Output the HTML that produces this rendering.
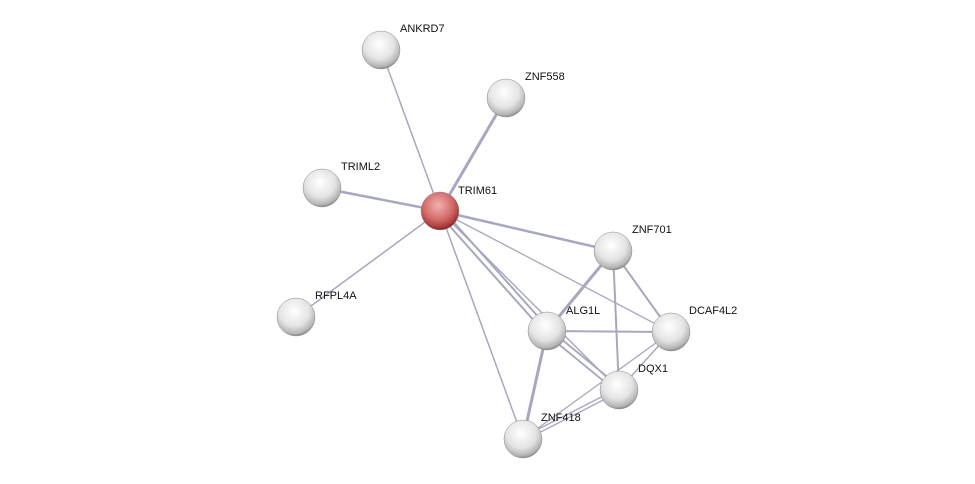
<!DOCTYPE html>
<html><head><style>
html,body{margin:0;padding:0;background:#fff;}
svg{display:block;}
text{font-family:"Liberation Sans",sans-serif;font-size:11px;fill:#111;}
</style></head><body>
<svg width="975" height="484" viewBox="0 0 975 484">
<defs>
<radialGradient id="g" cx="45%" cy="35%" r="65%">
<stop offset="0" stop-color="#ffffff"/><stop offset="0.6" stop-color="#e4e4e4"/><stop offset="0.9" stop-color="#b5b5b5"/><stop offset="1" stop-color="#8a8a8a"/>
</radialGradient>
<radialGradient id="r" cx="45%" cy="35%" r="65%">
<stop offset="0" stop-color="#f3b0b0"/><stop offset="0.6" stop-color="#d26a6a"/><stop offset="0.9" stop-color="#a83838"/><stop offset="1" stop-color="#7a2020"/>
</radialGradient>
</defs>
<g stroke="#a6a8bf" fill="none">
<line x1="440" y1="211" x2="381" y2="50" stroke-width="1.5"/>
<line x1="440" y1="211" x2="506" y2="98" stroke-width="3"/>
<line x1="440" y1="211" x2="322" y2="188" stroke-width="2.5"/>
<line x1="440" y1="211" x2="296" y2="317" stroke-width="1.5"/>
<line x1="440" y1="211" x2="613" y2="251" stroke-width="2.5"/>
<line x1="440" y1="211" x2="671" y2="332" stroke-width="1.3"/>
<line x1="438" y1="213" x2="545" y2="333" stroke-width="2"/>
<line x1="442" y1="209" x2="549" y2="329" stroke-width="2"/>
<line x1="440" y1="211" x2="619" y2="390" stroke-width="1.5"/>
<line x1="440" y1="211" x2="523" y2="439" stroke-width="1.5"/>
<line x1="613" y1="251" x2="547" y2="331" stroke-width="3"/>
<line x1="613" y1="251" x2="671" y2="332" stroke-width="2"/>
<line x1="613" y1="251" x2="619" y2="390" stroke-width="2"/>
<line x1="547" y1="331" x2="671" y2="332" stroke-width="2"/>
<line x1="545" y1="333" x2="617" y2="392" stroke-width="1.8"/>
<line x1="549" y1="329" x2="621" y2="388" stroke-width="1.8"/>
<line x1="547" y1="331" x2="523" y2="439" stroke-width="3"/>
<line x1="671" y1="332" x2="619" y2="390" stroke-width="1.5"/>
<line x1="671" y1="332" x2="523" y2="439" stroke-width="1.3"/>
<line x1="619" y1="388" x2="523" y2="437" stroke-width="1.3"/>
<line x1="619" y1="392" x2="523" y2="441" stroke-width="1.3"/>
</g>
<g stroke="#8a8a8a" stroke-width="0.5">
<circle cx="381" cy="50" r="19" fill="url(#g)"/>
<circle cx="506" cy="98" r="19" fill="url(#g)"/>
<circle cx="322" cy="188" r="19" fill="url(#g)"/>
<circle cx="296" cy="317" r="19" fill="url(#g)"/>
<circle cx="613" cy="251" r="19" fill="url(#g)"/>
<circle cx="547" cy="331" r="19" fill="url(#g)"/>
<circle cx="671" cy="332" r="19" fill="url(#g)"/>
<circle cx="619" cy="390" r="19" fill="url(#g)"/>
<circle cx="523" cy="439" r="19" fill="url(#g)"/>
<circle cx="440" cy="211" r="19" fill="url(#r)"/>
</g>
<text x="400" y="32">ANKRD7</text>
<text x="525" y="80">ZNF558</text>
<text x="341" y="170">TRIML2</text>
<text x="458" y="194">TRIM61</text>
<text x="632" y="233">ZNF701</text>
<text x="315" y="299">RFPL4A</text>
<text x="566" y="314">ALG1L</text>
<text x="689" y="314">DCAF4L2</text>
<text x="638" y="372">DQX1</text>
<text x="541" y="421">ZNF418</text>
</svg>
</body></html>
